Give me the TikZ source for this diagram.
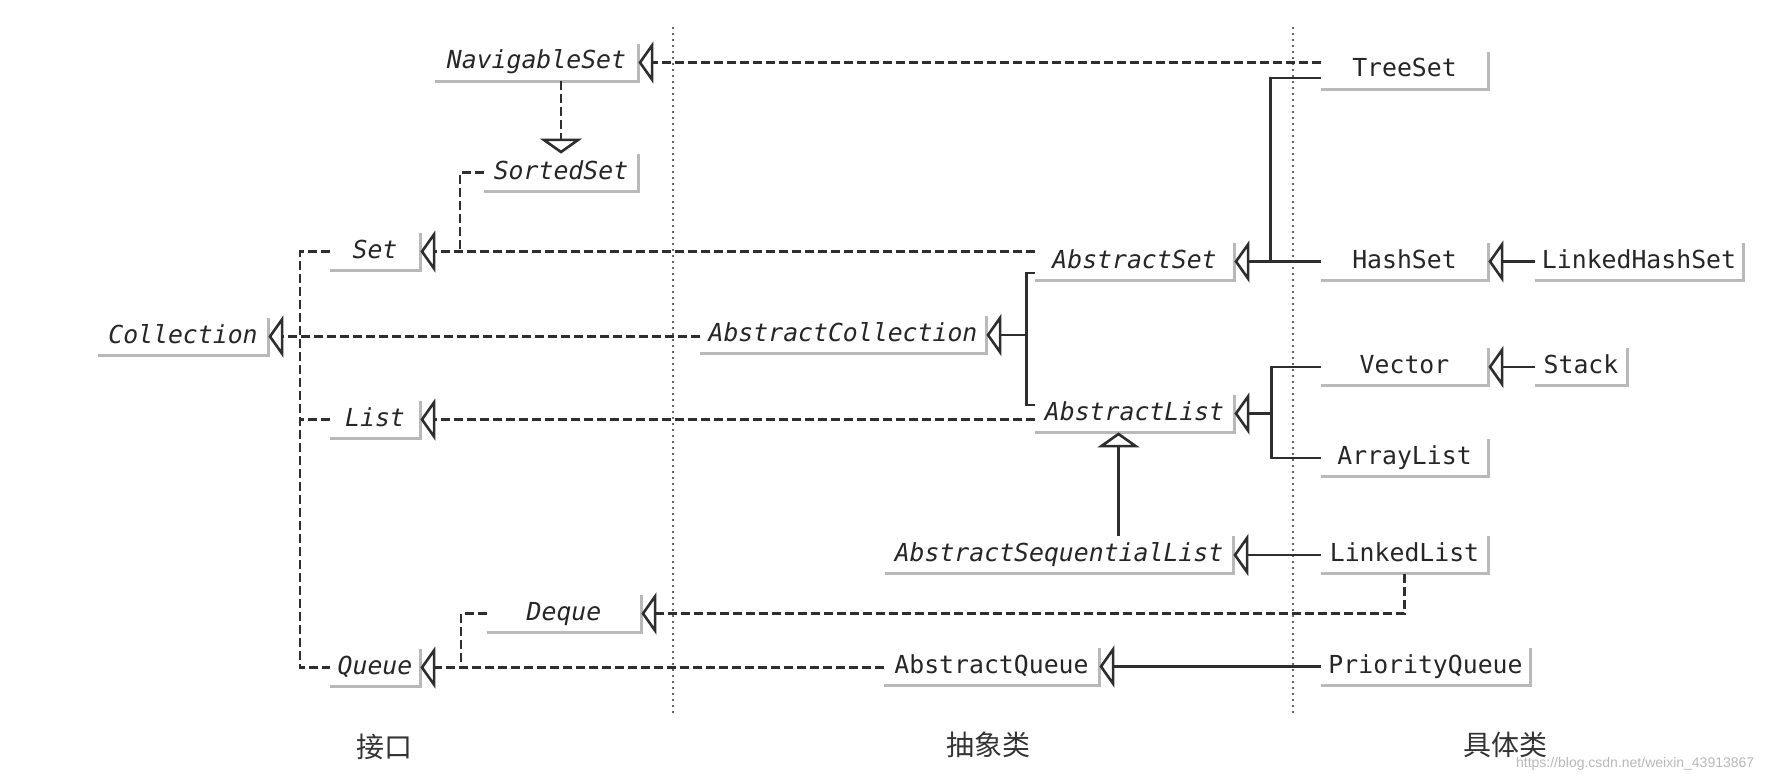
\documentclass[tikz,border=0pt]{standalone}
\usepackage{fontspec}
\setmonofont{DejaVu Sans Mono}
\newfontfamily\cjk{Noto Sans CJK SC}
\newfontfamily\wmfont{Liberation Sans}
\usetikzlibrary{arrows.meta,calc}
\newcommand\clsfont{\ttfamily\fontsize{12.4}{14}\selectfont}
\begin{document}
\begin{tikzpicture}[x=0.5pt,y=-0.5pt,
  cls/.style={font=\clsfont, inner sep=0pt, text height=12.5pt, text depth=6pt, minimum width=#1*0.5pt, anchor=base, text=black!85},
  icls/.style={cls=#1, font=\clsfont\itshape},
  shd/.style={draw=gray!55, line width=1.5pt},
  dsh/.style={draw=black!82, line width=1.3pt, dash pattern=on 4.5pt off 2pt},
  sol/.style={draw=black!82, line width=1.3pt},
  oarr/.style={-{Triangle[open,length=7.5pt,width=21pt]}},
  guide/.style={draw=black!60, line width=0.6pt, dash pattern=on 1pt off 2pt},
  lab/.style={font=\cjk\fontsize{14}{16}\selectfont, text=black!80}]
\fill[white] (0,0) rectangle (1789,781);
\useasboundingbox (0,0) rectangle (1789,781);

% guide lines
\draw[guide] (673,27) -- (673,713);
\draw[guide] (1293,27) -- (1293,713);

% interfaces
\node[icls=170] (coll) at (183,343) {Collection};
\node[icls=90] (set) at (375,258) {Set};
\node[icls=90] (list) at (375,426) {List};
\node[icls=90] (queue) at (375,674) {Queue};
\node[icls=203] (nav) at (536.5,69) {NavigableSet};
\node[icls=154] (sorted) at (561,179) {SortedSet};
\node[icls=154] (deque) at (564,620) {Deque};
% abstract classes
\node[icls=286] (acoll) at (843,341.5) {AbstractCollection};
\node[icls=199] (aset) at (1134.5,268) {AbstractSet};
\node[icls=199] (alist) at (1134.5,420) {AbstractList};
\node[icls=348] (asl) at (1059,561.5) {AbstractSequentialList};
\node[cls=215] (aq) at (991.5,673) {AbstractQueue};
% concrete classes
\node[cls=167] (tree) at (1404.5,77) {TreeSet};
\node[cls=167] (hash) at (1404.5,268) {HashSet};
\node[cls=208] (lhs) at (1639,268) {LinkedHashSet};
\node[cls=167] (vec) at (1404.5,373.5) {Vector};
\node[cls=92] (stack) at (1581,373.5) {Stack};
\node[cls=167] (arr) at (1404.5,464.5) {ArrayList};
\node[cls=167] (lnk) at (1404.5,561.5) {LinkedList};
\node[cls=209] (pq) at (1425.5,673) {PriorityQueue};

\foreach \n in {coll,set,list,queue,nav,sorted,deque,acoll,aset,alist,asl,aq,tree,hash,lhs,vec,stack,arr,lnk,pq}
  \draw[shd] (\n.south west) -- (\n.south east) -- (\n.north east);

% dashed (implements) connectors
\coordinate (jL) at (300,0);
\draw[dsh] (set.west) -- (jL |- set.west) -- (jL |- queue.west) -- (queue.west);
\draw[dsh] (list.west) -- (jL |- list.west);
\draw[dsh,oarr] (acoll.west |- coll.east) -- (coll.east);
\draw[dsh,oarr] (tree.west |- nav.east) -- (nav.east);
\draw[dsh,oarr] (nav.south -| sorted.north) -- (sorted.north);
\coordinate (jS) at (460,0);
\draw[dsh] (sorted.west) -- (jS |- sorted.west) -- (jS |- set.east);
\draw[dsh,oarr] (aset.west |- set.east) -- (set.east);
\draw[dsh,oarr] (alist.west |- list.east) -- (list.east);
\draw[dsh,oarr] (aq.west |- queue.east) -- (queue.east);
\coordinate (jD) at (461,0);
\draw[dsh] (deque.west) -- (jD |- deque.west) -- (jD |- queue.east);
\draw[dsh,oarr] (lnk.south) |- (deque.east);

% solid (extends) connectors
\coordinate (jC) at ($(acoll.east)+(40,0)$);
\draw[sol] ($(aset.west)+(0,11.5)$) -| (jC) |- ($(alist.west)+(0,-8.5)$);
\draw[sol,oarr] (jC) -- (acoll.east);
\coordinate (jT) at ($(aset.east)+(36,0)$);
\draw[sol,oarr] (hash.west |- aset.east) -- (aset.east);
\draw[sol] ($(tree.west)+(0,7.5)$) -| (jT);
\coordinate (jA) at ($(alist.east)+(37,0)$);
\draw[sol] (vec.west) -| (jA) |- (arr.west);
\draw[sol,oarr] (jA) -- (alist.east);
\coordinate (ap) at ($(alist.south)+(-16,0)$);
\draw[sol,oarr] (ap |- asl.north) -- (ap);
\draw[sol,oarr] (lnk.west |- asl.east) -- (asl.east);
\draw[sol,oarr] (pq.west |- aq.east) -- (aq.east);
\draw[sol,oarr] (lhs.west |- hash.east) -- (hash.east);
\draw[sol,oarr] (stack.west |- vec.east) -- (vec.east);

% column labels
\node[lab] (l1) at (384,747) {接口};
\node[lab] (l2) at (988,745) {抽象类};
\node[lab] (l3) at (1505,745) {具体类};
\node[anchor=west, font=\wmfont\fontsize{7}{8}\selectfont, text=gray!55] (wm) at (1509,764) {https://blog.csdn.net/weixin\_43913867};
\end{tikzpicture}
\end{document}
